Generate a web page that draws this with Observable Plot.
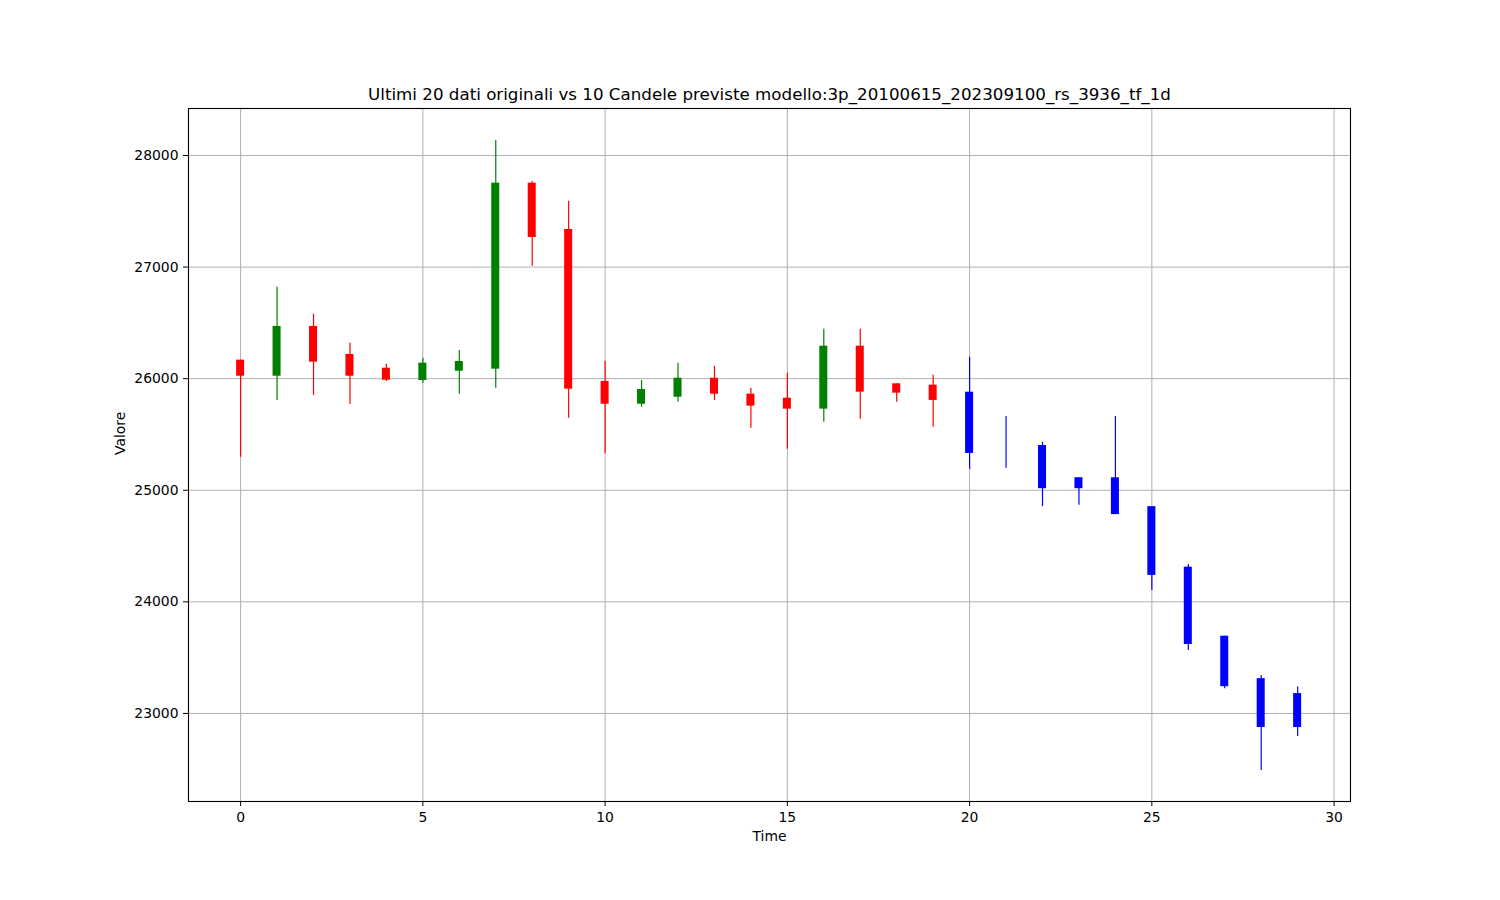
<!DOCTYPE html>
<html>
<head>
<meta charset="utf-8">
<script src="https://cdn.jsdelivr.net/npm/d3@7"></script>
<script src="https://cdn.jsdelivr.net/npm/@observablehq/plot@0.6"></script>
<style>
  html, body { margin: 0; padding: 0; background: #fff; }
  #chart { width: 1500px; height: 900px; }
</style>
</head>
<body>
<div id="chart"></div>
<script>
const titleText = "Ultimi 20 dati originali vs 10 Candele previste modello:3p_20100615_202309100_rs_3936_tf_1d";
const time  = [0,1,2,3,4,5,6,7,8,9,10,11,12,13,14,15,16,17,18,19,20,21,22,23,24,25,26,27,28,29];
const open  = [26166,26022,26468,26217,26094,25984,26067,26085,27752,27337,25975,25771,25834,26004,25861,25825,25727,26291,25954,25942,25879,25430,25401,25112,25112,24853,24311,23692,23312,23178];
const close = [26022,26468,26148,26022,25986,26139,26154,27752,27265,25906,25771,25903,26004,25861,25754,25727,26291,25879,25870,25805,25330,25430,25014,25014,24782,24237,23618,23240,22874,22874];
const high  = [26166,26820,26578,26318,26130,26184,26253,28134,27767,27590,26157,25984,26139,26112,25915,26049,26443,26443,25954,26031,26193,25661,25431,25112,25661,24853,24335,23692,23340,23236];
const low   = [25296,25805,25849,25769,25975,25960,25861,25915,27008,25646,25327,25745,25789,25805,25556,25368,25610,25637,25789,25565,25189,25198,24853,24866,24782,24102,23564,23222,22489,22794];
const kind  = ["orig","orig","orig","orig","orig","orig","orig","orig","orig","orig","orig","orig","orig","orig","orig","orig","orig","orig","orig","orig","pred","pred","pred","pred","pred","pred","pred","pred","pred","pred"];
const xTicks = [0,5,10,15,20,25,30];
const yTicks = [23000,24000,25000,26000,27000,28000];

const data = time.map((t, i) => ({t, open: open[i], close: close[i], high: high[i], low: low[i], kind: kind[i]}));
const colorOf = d => d.kind === "pred" ? "#0000ff" : (d.close >= d.open ? "#008000" : "#ff0000");
const halfW = 0.11;

const chart = Plot.plot({
  width: 1500,
  height: 900,
  marginLeft: 188,
  marginRight: 150,
  marginTop: 108,
  marginBottom: 99,
  style: {fontFamily: "DejaVu Sans", fontSize: "13.9px", color: "#000", background: "#fff"},
  x: {domain: [-1.43, 30.45], label: null},
  y: {domain: [22211, 28421], label: null},
  marks: [
    Plot.gridX(xTicks, {stroke: "#b0b0b0", strokeOpacity: 1, strokeWidth: 1}),
    Plot.gridY(yTicks, {stroke: "#b0b0b0", strokeOpacity: 1, strokeWidth: 1}),
    Plot.ruleX(data, {x: "t", y1: "low", y2: "high", stroke: colorOf, strokeWidth: 1.2}),
    Plot.rectY(data, {x1: d => d.t - halfW, x2: d => d.t + halfW, y1: "open", y2: "close", fill: colorOf}),
    Plot.frame({stroke: "#000", strokeWidth: 1.1}),
    Plot.axisX(xTicks, {tickSize: 5, tickPadding: 6, tickFormat: d => String(d), label: null, fontSize: 13.9}),
    Plot.axisY(yTicks, {tickSize: 5, tickPadding: 5, tickFormat: d => String(d), label: null, fontSize: 13.9}),
    Plot.text([titleText], {frameAnchor: "top", dy: -20, text: d => d, fontSize: 16.7, fill: "#000"}),
    Plot.text(["Time"], {frameAnchor: "bottom", dy: 39, text: d => d, fontSize: 13.9, fill: "#000"}),
    Plot.text(["Valore"], {frameAnchor: "left", dx: -68, rotate: -90, text: d => d, fontSize: 13.9, fill: "#000"})
  ]
});
document.getElementById("chart").appendChild(chart);
</script>
</body>
</html>
